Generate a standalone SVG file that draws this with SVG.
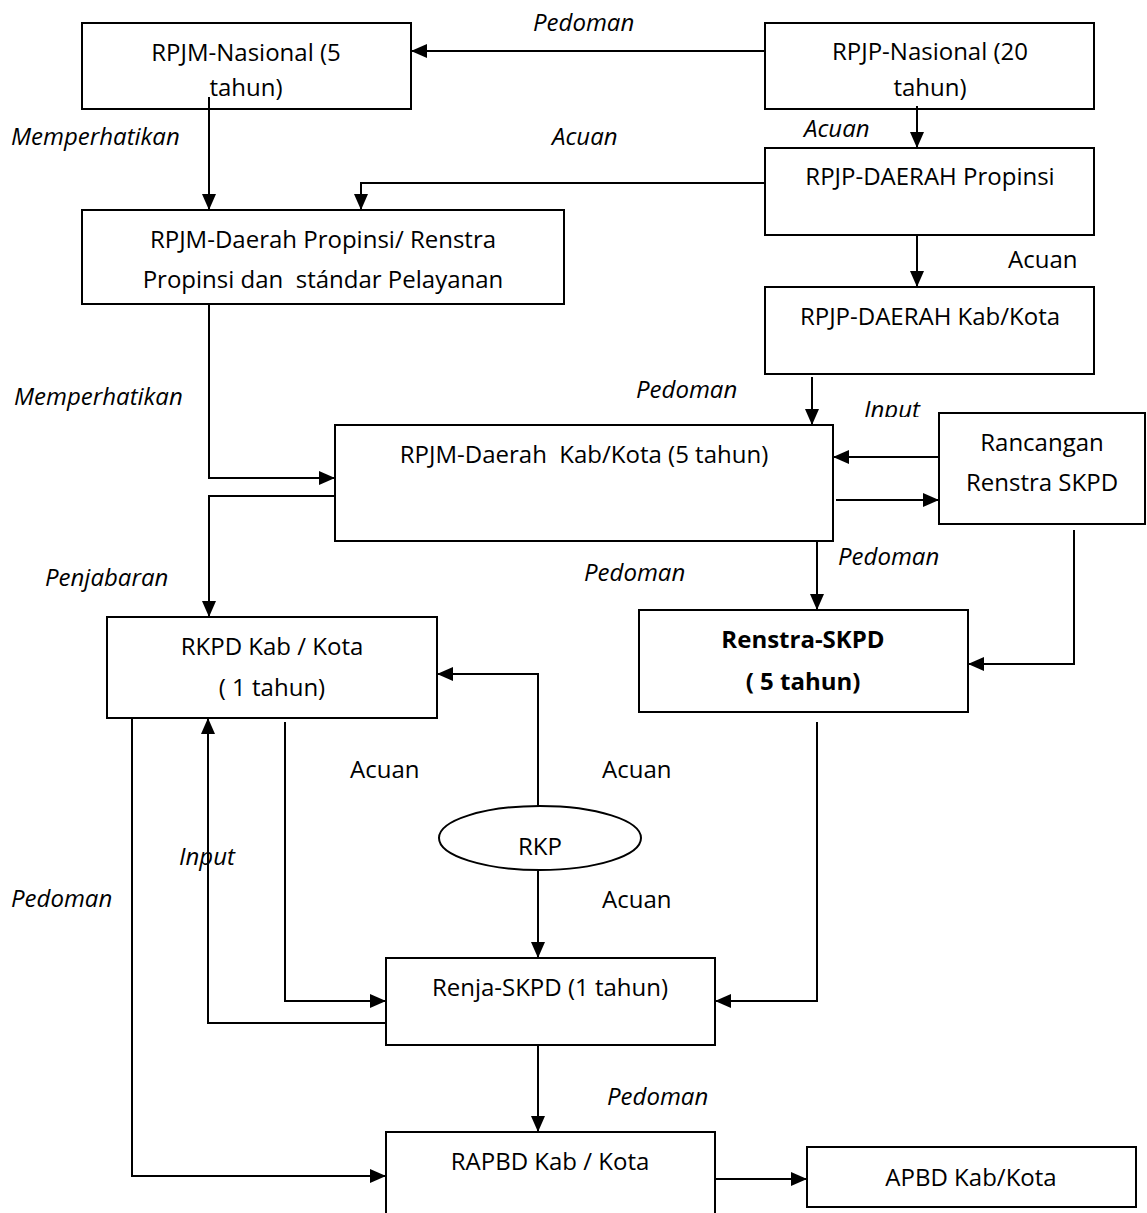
<svg xmlns="http://www.w3.org/2000/svg" width="1147" height="1213" viewBox="0 0 1147 1213">
<style>
.box{fill:#fff;stroke:#000;stroke-width:2}
.t{font-family:"Open Sans","Liberation Sans",sans-serif;font-size:24px;fill:#000;text-anchor:middle}
.b{font-weight:bold}
.l{font-family:"Open Sans","Liberation Sans",sans-serif;font-size:24px;fill:#000}
.i{font-style:italic}
.c{fill:none;stroke:#000;stroke-width:2}
</style>
<defs>
<marker id="a" viewBox="0 0 16 14" refX="16" refY="7" markerWidth="8" markerHeight="7" markerUnits="strokeWidth" orient="auto"><path d="M0,0L16,7L0,14z" fill="#000"/></marker>
<clipPath id="clipIn"><rect x="850" y="380" width="100" height="37"/></clipPath>
</defs>
<rect width="1147" height="1213" fill="#fff"/>
<g id="n1"><rect class="box" x="82" y="23" width="329" height="86"/><text class="t" x="246" y="61">RPJM-Nasional (5</text><text class="t" x="246" y="96">tahun)</text></g>
<g id="n2"><rect class="box" x="765" y="23" width="329" height="86"/><text class="t" x="930" y="60">RPJP-Nasional (20</text><text class="t" x="930" y="96">tahun)</text></g>
<g id="n3"><rect class="box" x="765" y="148" width="329" height="87"/><text class="t" x="930" y="185">RPJP-DAERAH Propinsi</text></g>
<g id="n4"><rect class="box" x="82" y="210" width="482" height="94"/><text class="t" x="323" y="248">RPJM-Daerah Propinsi/ Renstra</text><text class="t" x="323" y="288" xml:space="preserve">Propinsi dan  stándar Pelayanan</text></g>
<g id="n5"><rect class="box" x="765" y="287" width="329" height="87"/><text class="t" x="930" y="325">RPJP-DAERAH Kab/Kota</text></g>
<g id="n6"><rect class="box" x="335" y="425" width="498" height="116"/><text class="t" x="584" y="463" xml:space="preserve">RPJM-Daerah  Kab/Kota (5 tahun)</text></g>
<g id="n7"><rect class="box" x="939" y="413" width="206" height="111"/><text class="t" x="1042" y="451">Rancangan</text><text class="t" x="1042" y="491">Renstra SKPD</text></g>
<g id="n8"><rect class="box" x="107" y="617" width="330" height="101"/><text class="t" x="272" y="655">RKPD Kab / Kota</text><text class="t" x="272" y="696">( 1 tahun)</text></g>
<g id="n9"><rect class="box" x="639" y="610" width="329" height="102"/><text class="t b" x="803" y="648">Renstra-SKPD</text><text class="t b" x="803" y="690">( 5 tahun)</text></g>
<g id="n10"><ellipse class="box" cx="540" cy="838" rx="101" ry="32"/><text class="t" x="540" y="855">RKP</text></g>
<g id="n11"><rect class="box" x="386" y="958" width="329" height="87"/><text class="t" x="550" y="996">Renja-SKPD (1 tahun)</text></g>
<g id="n12"><rect class="box" x="386" y="1132" width="329" height="90"/><text class="t" x="550" y="1170">RAPBD Kab / Kota</text></g>
<g id="n13"><rect class="box" x="807" y="1147" width="329" height="60"/><text class="t" x="971" y="1186">APBD Kab/Kota</text></g>
<g id="connectors">
<path class="c" d="M765,51H411" marker-end="url(#a)"/>
<path class="c" d="M209,97V210" marker-end="url(#a)"/>
<path class="c" d="M917,106V148" marker-end="url(#a)"/>
<path class="c" d="M765,183H361V210" marker-end="url(#a)"/>
<path class="c" d="M917,235V287" marker-end="url(#a)"/>
<path class="c" d="M209,304V478H335" marker-end="url(#a)"/>
<path class="c" d="M812,377V425" marker-end="url(#a)"/>
<path class="c" d="M939,457H833" marker-end="url(#a)"/>
<path class="c" d="M836,500H939" marker-end="url(#a)"/>
<path class="c" d="M335,496H209V617" marker-end="url(#a)"/>
<path class="c" d="M817,541V610" marker-end="url(#a)"/>
<path class="c" d="M1074,530V664H968" marker-end="url(#a)"/>
<path class="c" d="M538,806V674H437" marker-end="url(#a)"/>
<path class="c" d="M538,871V958" marker-end="url(#a)"/>
<path class="c" d="M285,722V1001H386" marker-end="url(#a)"/>
<path class="c" d="M386,1023H208V718" marker-end="url(#a)"/>
<path class="c" d="M132,718V1176H386" marker-end="url(#a)"/>
<path class="c" d="M817,722V1001H715" marker-end="url(#a)"/>
<path class="c" d="M538,1045V1132" marker-end="url(#a)"/>
<path class="c" d="M715,1179H807" marker-end="url(#a)"/>
<text class="l i" x="533" y="31">Pedoman</text>
<text class="l i" x="11" y="145">Memperhatikan</text>
<text class="l i" x="552" y="145">Acuan</text>
<text class="l i" x="804" y="137">Acuan</text>
<text class="l" x="1008" y="268">Acuan</text>
<text class="l i" x="14" y="405">Memperhatikan</text>
<text class="l i" x="636" y="398">Pedoman</text>
<text class="l i" x="864" y="418" clip-path="url(#clipIn)">Input</text>
<text class="l i" x="45" y="586">Penjabaran</text>
<text class="l i" x="838" y="565">Pedoman</text>
<text class="l i" x="584" y="581">Pedoman</text>
<text class="l" x="350" y="778">Acuan</text>
<text class="l" x="602" y="778">Acuan</text>
<text class="l i" x="179" y="865">Input</text>
<text class="l i" x="11" y="907">Pedoman</text>
<text class="l" x="602" y="908">Acuan</text>
<text class="l i" x="607" y="1105">Pedoman</text>
</g>
</svg>
